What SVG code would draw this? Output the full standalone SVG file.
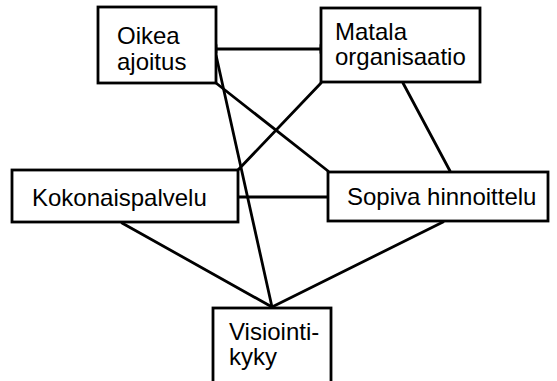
<svg xmlns="http://www.w3.org/2000/svg" width="557" height="381" viewBox="0 0 557 381">
<style>
.box{fill:#fff;stroke:#000;stroke-width:2.8}
.t{font-family:"Liberation Sans",Arial,sans-serif;font-size:24px;fill:#000}
.c{stroke:#000;stroke-width:2.8;fill:none;stroke-linecap:round}
</style>
<rect width="557" height="381" fill="#fff"/>
<g id="connectors">
<line class="c" x1="216" y1="49" x2="321" y2="49"/>
<line class="c" x1="216" y1="45" x2="216" y2="53"/>
<line class="c" x1="321" y1="45" x2="321" y2="53"/>
<line class="c" x1="216" y1="83" x2="328" y2="171"/>
<line class="c" x1="216" y1="55" x2="272" y2="307"/>
<line class="c" x1="321" y1="83" x2="238" y2="170"/>
<line class="c" x1="403" y1="83" x2="450" y2="171"/>
<line class="c" x1="238" y1="197" x2="328" y2="197"/>
<line class="c" x1="122" y1="223" x2="272" y2="307"/>
<line class="c" x1="443" y1="222" x2="272" y2="307"/>
</g>
<g id="oikea">
<rect class="box" x="98" y="7" width="118" height="76"/>
<text class="t" x="117" y="44">Oikea</text>
<text class="t" x="117" y="70">ajoitus</text>
</g>
<g id="matala">
<rect class="box" x="321" y="8" width="159" height="74"/>
<text class="t" x="335" y="40">Matala</text>
<text class="t" x="335" y="65">organisaatio</text>
</g>
<g id="kokonaispalvelu">
<rect class="box" x="12" y="170" width="226" height="52"/>
<text class="t" x="32" y="206">Kokonaispalvelu</text>
</g>
<g id="sopiva">
<rect class="box" x="328" y="172" width="220" height="49"/>
<text class="t" x="347" y="205">Sopiva hinnoittelu</text>
</g>
<g id="visiointi">
<rect class="box" x="213" y="308" width="118" height="80"/>
<text class="t" x="229" y="340">Visiointi-</text>
<text class="t" x="229" y="365">kyky</text>
</g>
</svg>
